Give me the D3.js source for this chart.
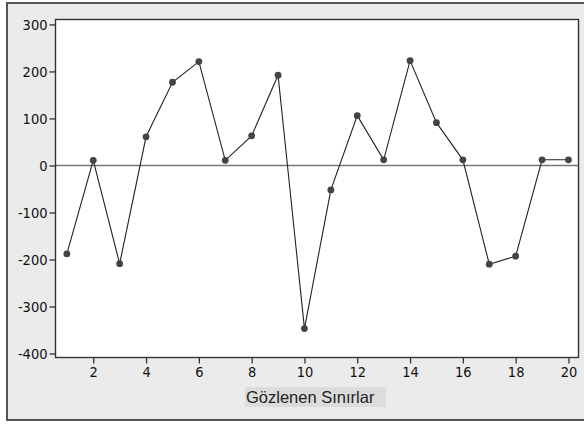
<!DOCTYPE html>
<meta charset="utf-8">
<title>Gözlenen Sınırlar</title>
<style>

body {
  position: absolute;
  margin: 0px;
}

svg {
  background-color: #fff;
}

.tick text {
  font-family: "DejaVu Sans Condensed", "DejaVu Sans", sans-serif;
  font-size: 14.5px;
  fill: #111;
}

.xlabel {
  font-family: "Liberation Sans", Arial, sans-serif;
  font-size: 16.5px;
  fill: #222;
}

</style>

<script src="https://d3js.org/d3.v7.min.js"></script>

<body>

<script>

var width = 584, height = 424;

// observation number and value
var obs = [1, 2, 3, 4, 5, 6, 7, 8, 9, 10, 11, 12, 13, 14, 15, 16, 17, 18, 19, 20];
var values = [-188, 11, -209, 61, 177, 221, 11, 63, 192, -347, -52, 106, 12, 223, 91, 12, -210, -193, 12, 12];

var xTicks = [2, 4, 6, 8, 10, 12, 14, 16, 18, 20];
var yTicks = [300, 200, 100, 0, -100, -200, -300, -400];
var xTitle = "Gözlenen Sınırlar";

var plot = { left: 55.5, top: 19.5, right: 578.5, bottom: 357.5 };

var svg = d3.select("body").append("svg")
    .attr("width", width)
    .attr("height", height);

// grey panel behind everything
svg.append("rect")
    .attr("x", 7)
    .attr("y", 3)
    .attr("width", 600)
    .attr("height", 417)
    .attr("fill", "#ebebeb")
    .attr("stroke", "#555")
    .attr("stroke-width", 2);

svg.append("rect")
    .attr("x", plot.left)
    .attr("y", plot.top)
    .attr("width", plot.right - plot.left)
    .attr("height", plot.bottom - plot.top)
    .attr("fill", "#fff");

var x = d3.scaleLinear()
    .domain([0.57, 20.38])
    .range([plot.left, plot.right]);

var y = d3.scaleLinear()
    .domain([-408.5, 310.5])
    .range([plot.bottom, plot.top]);

// plain hyphen for negatives, like the original
var fmt = function(d) { return String(d); };

var xAxis = svg.append("g")
    .attr("transform", "translate(0," + plot.bottom + ")")
    .call(d3.axisBottom(x).tickValues(xTicks).tickFormat(fmt).tickSize(6).tickPadding(3));

var yAxis = svg.append("g")
    .attr("transform", "translate(" + plot.left + ",0)")
    .call(d3.axisLeft(y).tickValues(yTicks).tickFormat(fmt).tickSize(6).tickPadding(2));

xAxis.select(".domain").remove();
yAxis.select(".domain").remove();
svg.selectAll(".tick line").attr("stroke", "#333").attr("stroke-width", 1.3);

// zero reference line
svg.append("line")
    .attr("x1", plot.left)
    .attr("x2", plot.right)
    .attr("y1", y(0))
    .attr("y2", y(0))
    .attr("stroke", "#777")
    .attr("stroke-width", 1.5);

// plot frame
svg.append("rect")
    .attr("x", plot.left)
    .attr("y", plot.top)
    .attr("width", plot.right - plot.left)
    .attr("height", plot.bottom - plot.top)
    .attr("fill", "none")
    .attr("stroke", "#333")
    .attr("stroke-width", 1.4);

var line = d3.line()
    .x(function(d, i) { return x(obs[i]); })
    .y(function(d) { return y(d); });

svg.append("path")
    .datum(values)
    .attr("d", line)
    .attr("fill", "none")
    .attr("stroke", "#222")
    .attr("stroke-width", 1.1);

svg.selectAll("circle.pt")
    .data(values)
  .enter().append("circle")
    .attr("class", "pt")
    .attr("cx", function(d, i) { return x(obs[i]); })
    .attr("cy", function(d) { return y(d); })
    .attr("r", 3.4)
    .attr("fill", "#444");

// axis title with its grey box
svg.append("rect")
    .attr("x", 245)
    .attr("y", 387)
    .attr("width", 141)
    .attr("height", 20)
    .attr("fill", "#dcdcdc");

svg.append("text")
    .attr("class", "xlabel")
    .attr("x", 246)
    .attr("y", 402.5)
    .text(xTitle);

</script>
